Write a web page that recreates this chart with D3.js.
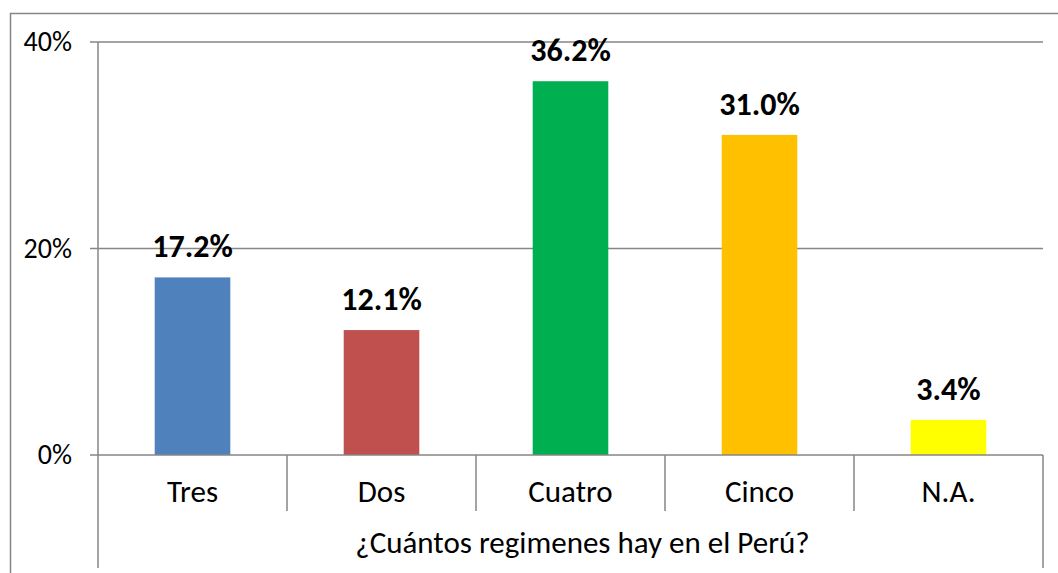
<!DOCTYPE html>
<html>
<head>
<meta charset="utf-8">
<script src="https://cdn.jsdelivr.net/npm/d3@7"></script>
<style>
  body { margin: 0; background: #fff; }
  text { font-family: Calibri, "Open Sans", sans-serif; fill: #000; }
</style>
</head>
<body>
<div id="chart"></div>
<script>
const categories = ["Tres", "Dos", "Cuatro", "Cinco", "N.A."];
const values = [17.2, 12.1, 36.2, 31.0, 3.4];
const barColors = ["#4F81BD", "#C0504D", "#00B050", "#FFC000", "#FFFF00"];
const yTicks = [0, 20, 40];
const axisTitle = "¿Cuántos regimenes hay en el Perú?";

const width = 1058, height = 573;
const margin = {top: 42, left: 98, right: 15, bottom: 118};
const lineColor = "#868686";

const svg = d3.select("#chart").append("svg")
    .attr("width", width)
    .attr("height", height);

// outer chart border (runs off the right and bottom edge)
svg.append("rect")
    .attr("x", 10.5).attr("y", 13.5)
    .attr("width", 1200).attr("height", 700)
    .attr("fill", "none")
    .attr("stroke", lineColor)
    .attr("stroke-width", 1.5);

const x = d3.scaleBand()
    .domain(categories)
    .range([margin.left, width - margin.right])
    .paddingInner(0.6)
    .paddingOuter(0.3);

const y = d3.scaleLinear()
    .domain([0, 40])
    .range([height - margin.bottom, margin.top]);

const x0 = margin.left, x1 = width - margin.right;
const yBase = y(0);

// gridlines
svg.append("g")
    .selectAll("line")
    .data(yTicks.filter(d => d > 0))
    .join("line")
    .attr("x1", x0 - 8).attr("x2", x1)
    .attr("y1", d => y(d)).attr("y2", d => y(d))
    .attr("stroke", lineColor)
    .attr("stroke-width", 1.5);

// bars
svg.append("g")
    .selectAll("rect")
    .data(values)
    .join("rect")
    .attr("x", (d, i) => x(categories[i]))
    .attr("width", x.bandwidth())
    .attr("y", d => y(d))
    .attr("height", d => yBase - y(d))
    .attr("fill", (d, i) => barColors[i]);

// value labels
svg.append("g")
    .selectAll("text")
    .data(values)
    .join("text")
    .attr("x", (d, i) => x(categories[i]) + x.bandwidth() / 2)
    .attr("y", d => y(d) - 20)
    .attr("text-anchor", "middle")
    .style("font-size", "32px")
    .style("font-weight", "bold")
    .text(d => d.toFixed(1) + "%");

// y axis line + ticks
svg.append("line")
    .attr("x1", x0).attr("x2", x0)
    .attr("y1", y(40)).attr("y2", height - 5)
    .attr("stroke", lineColor).attr("stroke-width", 1.5);

svg.append("line")
    .attr("x1", x0 - 8).attr("x2", x1)
    .attr("y1", yBase).attr("y2", yBase)
    .attr("stroke", lineColor).attr("stroke-width", 1.5);

svg.append("g")
    .selectAll("text")
    .data(yTicks)
    .join("text")
    .attr("x", 72)
    .attr("y", d => y(d) + 9)
    .attr("text-anchor", "end")
    .style("font-size", "28px")
    .text(d => d + "%");

// category separators
const step = (x1 - x0) / categories.length;
const seps = d3.range(1, categories.length).map(i => x0 + i * step);
svg.append("g")
    .selectAll("line")
    .data(seps)
    .join("line")
    .attr("x1", d => d).attr("x2", d => d)
    .attr("y1", yBase).attr("y2", 511)
    .attr("stroke", lineColor).attr("stroke-width", 1.5);

svg.append("line")
    .attr("x1", x1).attr("x2", x1)
    .attr("y1", yBase).attr("y2", height - 5)
    .attr("stroke", lineColor).attr("stroke-width", 1.5);

// category labels
svg.append("g")
    .selectAll("text")
    .data(categories)
    .join("text")
    .attr("x", d => x(d) + x.bandwidth() / 2)
    .attr("y", 502)
    .attr("text-anchor", "middle")
    .style("font-size", "31px")
    .text(d => d);

// axis title
svg.append("text")
    .attr("x", (x0 + x1) / 2 + 12)
    .attr("y", 553)
    .attr("text-anchor", "middle")
    .style("font-size", "31px")
    .text(axisTitle);
</script>
</body>
</html>
